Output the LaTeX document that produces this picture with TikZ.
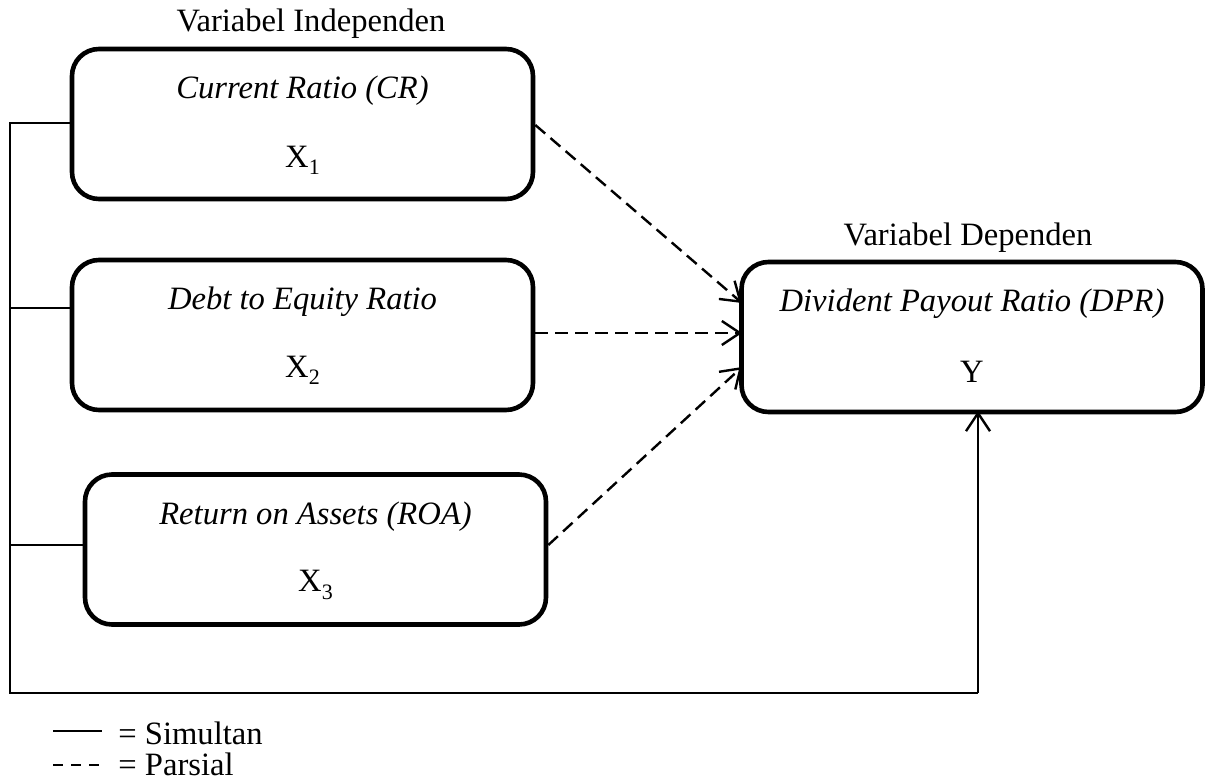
\documentclass[tikz,border=0pt]{standalone}
\usepackage{fontspec}
\setmainfont{Liberation Serif}
\usetikzlibrary{arrows.meta}
\newcommand{\subx}[1]{\raisebox{-0.22em}{\fontsize{11}{12}\selectfont #1}}
\begin{document}
\begin{tikzpicture}[x=0.5pt,y=-0.5pt,
  every node/.style={font=\fontsize{16.3}{19}\selectfont, inner sep=0pt},
  box/.style={draw, line width=2.3pt, rounded corners=13.5pt, minimum width=230.5pt, minimum height=75pt},
  simul/.style={line width=0.8pt},
  parsial/.style={line width=1.2pt, dash pattern=on 6.5pt off 3.5pt, -{Straight Barb[length=9pt,width=12pt,line width=1.2pt]}},
  simularrow/.style={line width=0.9pt, -{Straight Barb[length=9pt,width=12pt,line width=1.2pt]}}
]
\useasboundingbox (0,0) rectangle (1208,782);
% boxes
\node[box] (x1) at (302.5,124) {};
\node[box] (x2) at (302.5,335) {};
\node[box] (x3) at (315.5,549.5) {};
\node[box] (yb) at (972,337) {};
% titles
\node (ti) at (311,24) {Variabel Independen};
\node (td) at (968,238) {Variabel Dependen};
% texts
\node (t1) at (302.5,91) {\itshape Current Ratio (CR)};
\node (s1) at (302.5,160) {X\subx{1}};
\node (t2) at (302.5,302) {\itshape Debt to Equity Ratio};
\node (s2) at (302.5,370) {X\subx{2}};
\node (t3) at (315.5,517) {\itshape Return on Assets (ROA)};
\node (s3) at (315.5,585) {X\subx{3}};
\node (ty) at (972,304) {\itshape Divident Payout Ratio (DPR)};
\node (sy) at (972,372) {Y};
% simultaneous lines
\coordinate (a1) at (10,123);
\coordinate (b2) at (72,308);
\coordinate (a2) at (10,308);
\coordinate (b3) at (85,545);
\coordinate (a3) at (10,545);
\coordinate (cb) at (10,693);
\coordinate (cr) at (978,693);
\coordinate (ye) at (978,411);
\draw[simul] (x1.west |- a1) -- (a1) -- (cb) -- (cr);
\draw[simul] (b2) -- (a2);
\draw[simul] (b3) -- (a3);
\draw[simularrow] (cr) -- (ye);
% partial arrows
\coordinate (e1) at (742,303);
\coordinate (e2) at (742,333);
\coordinate (e3) at (742,367);
\draw[parsial] (x1.east |- 0,125) -- (e1);
\draw[parsial] (x2.east |- 0,333) -- (e2);
\draw[parsial] (x3.east |- 0,545) -- (e3);
% legend
\coordinate (l1a) at (53,731);
\coordinate (l1b) at (102,731);
\coordinate (l2a) at (53,765);
\coordinate (l2b) at (100,765);
\draw[line width=0.9pt] (l1a) -- (l1b);
\draw[line width=1.3pt, dash pattern=on 5pt off 4pt] (l2a) -- (l2b);
\node[anchor=west] (g1) at (118,733) {= Simultan};
\node[anchor=west] (g2) at (118,764) {= Parsial};
\end{tikzpicture}
\end{document}
